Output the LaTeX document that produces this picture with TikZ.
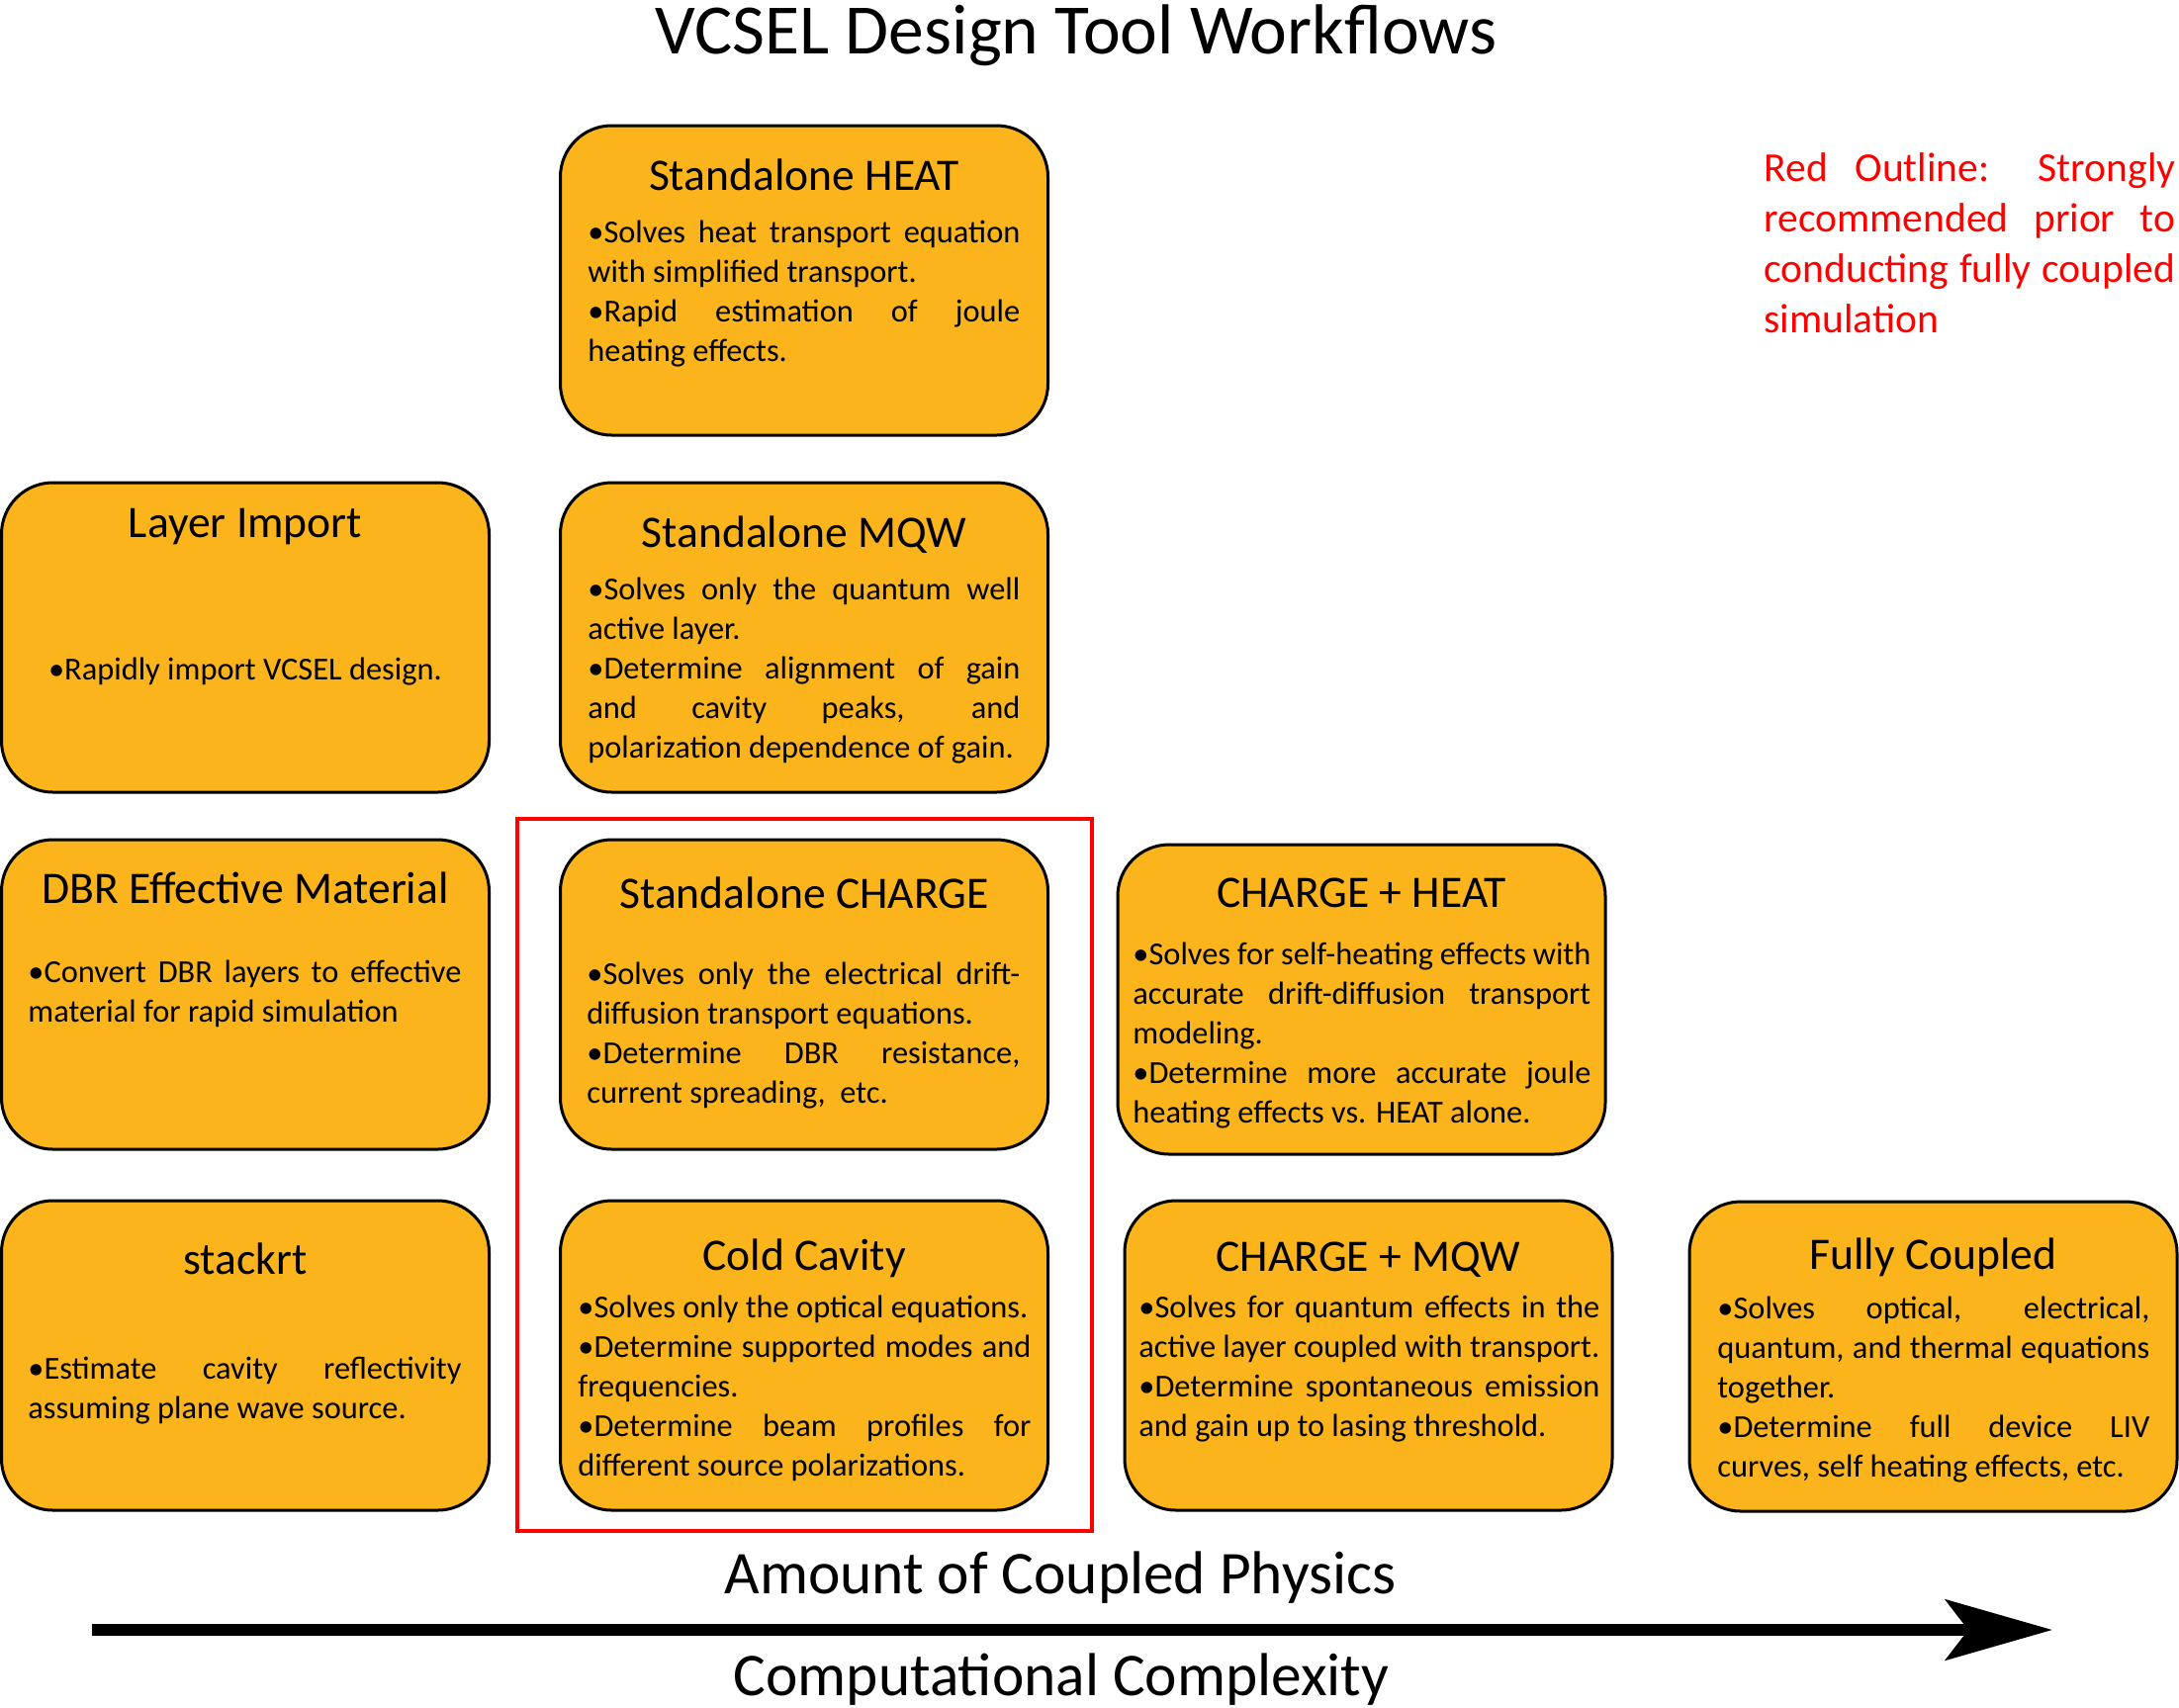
\documentclass[tikz,border=0pt]{standalone}
\usepackage{fontspec}
\setmainfont{Carlito}
\usetikzlibrary{arrows.meta}
\definecolor{boxfill}{RGB}{251,180,28}
\definecolor{redline}{RGB}{255,0,0}
\newcommand\jline[1]{\makebox[\linewidth][s]{#1}\par}
\newcommand\lline[1]{#1\par}
\newcommand\bodyfont{\fontsize{16.2pt}{20pt}\selectfont}
\newcommand\titlefont{\fontsize{22.8pt}{26pt}\selectfont}
\tikzset{
  box/.style={draw=black, line width=1.5pt, fill=boxfill, rounded corners=26pt,
    minimum width=246.5pt, minimum height=156.5pt, inner sep=0pt},
  boxtitle/.style={anchor=base, inner sep=0pt, font=\titlefont},
  body/.style={anchor=base west, inner sep=0pt, font=\bodyfont},
  redframe/.style={draw=redline, line width=2.2pt, inner sep=0pt},
}
\begin{document}
\begin{tikzpicture}[x=0.5pt,y=-0.5pt]
\useasboundingbox (0,0) rectangle (2203,1726);

% title
\node[anchor=base, inner sep=0pt, font=\fontsize{35.8pt}{40pt}\selectfont] (title) at (1088,54) {VCSEL Design Tool Workflows};

% red annotation
\node[anchor=base west, inner sep=0pt, text=redline, font=\fontsize{20.8pt}{25.5pt}\selectfont] (note) at (1783,183)
 {\begin{minipage}[t]{208pt}\jline{Red Outline: Strongly}\jline{recommended prior to}\jline{conducting fully coupled}\lline{simulation}\end{minipage}};

% red frame
\node[redframe, minimum width=290.5pt, minimum height=360pt] (frame) at (813.5,1188) {};

% boxes
\node[box] (heat) at (813,283.5) {};
\node[box] (layer) at (248,644.5) {};
\node[box] (mqw) at (813,644.5) {};
\node[box] (dbr) at (248,1005.5) {};
\node[box] (charge) at (813,1005.5) {};
\node[box] (chheat) at (1376.5,1010.5) {};
\node[box] (stackrt) at (248,1370.5) {};
\node[box] (cold) at (813,1370.5) {};
\node[box] (chmqw) at (1383.5,1370.5) {};
\node[box] (fully) at (1954.5,1371.5) {};

% titles
\node[boxtitle] (heatT) at (813,192) {Standalone HEAT};
\node[boxtitle] (layerT) at (248,543) {Layer Import};
\node[boxtitle] (mqwT) at (813,553) {Standalone MQW};
\node[boxtitle] (dbrT) at (248,913) {DBR Effective Material};
\node[boxtitle] (chargeT) at (813,918) {Standalone CHARGE};
\node[boxtitle] (chheatT) at (1376.5,917) {CHARGE + HEAT};
\node[boxtitle] (stackrtT) at (248,1288) {stackrt};
\node[boxtitle] (coldT) at (813,1284) {Cold Cavity};
\node[boxtitle] (chmqwT) at (1383.5,1285) {CHARGE + MQW};
\node[boxtitle] (fullyT) at (1954.5,1283) {Fully Coupled};

% bodies
\node[body] (heatB) at (594,245) {\begin{minipage}[t]{218.5pt}%
\jline{•Solves heat transport equation}\lline{with simplified transport.}%
\jline{•Rapid estimation of joule}\lline{heating effects.}\end{minipage}};

\node[anchor=base, inner sep=0pt, font=\bodyfont] (layerB) at (248,687) {•Rapidly import VCSEL design.};

\node[body] (mqwB) at (594,606) {\begin{minipage}[t]{218.5pt}%
\jline{•Solves only the quantum well}\lline{active layer.}%
\jline{•Determine alignment of gain}\jline{and cavity peaks, and}\lline{polarization dependence of gain.}\end{minipage}};

\node[body] (dbrB) at (28,993) {\begin{minipage}[t]{219pt}%
\jline{•Convert DBR layers to effective}\lline{material for rapid simulation}\end{minipage}};

\node[body] (chargeB) at (593,995) {\begin{minipage}[t]{219pt}%
\jline{•Solves only the electrical drift-}\lline{diffusion transport equations.}%
\jline{•Determine DBR resistance,}\lline{current spreading,\ \ etc.}\end{minipage}};

\node[body] (coldB) at (584,1332) {\begin{minipage}[t]{229pt}%
\lline{•Solves only the optical equations.}%
\jline{•Determine supported modes and}\lline{frequencies.}%
\jline{•Determine beam profiles for}\lline{different source polarizations.}\end{minipage}};

\node[body] (chheatB) at (1145,975) {\begin{minipage}[t]{231.5pt}%
\jline{•Solves for self-heating effects with}\jline{accurate drift-diffusion transport}\lline{modeling.}%
\jline{•Determine more accurate joule}\lline{heating effects vs. HEAT alone.}\end{minipage}};

\node[body] (chmqwB) at (1151,1332) {\begin{minipage}[t]{233pt}%
\jline{•Solves for quantum effects in the}\lline{active layer coupled with transport.}%
\jline{•Determine spontaneous emission}\lline{and gain up to lasing threshold.}\end{minipage}};

\node[body] (fullyB) at (1736,1333) {\begin{minipage}[t]{218.5pt}%
\jline{•Solves optical, electrical,}\jline{quantum, and thermal equations}\lline{together.}%
\jline{•Determine full device LIV}\lline{curves, self heating effects, etc.}\end{minipage}};

\node[body] (stackrtB) at (28,1394) {\begin{minipage}[t]{219pt}%
\jline{•Estimate cavity reflectivity}\lline{assuming plane wave source.}\end{minipage}};

% axis
\coordinate (axs) at (93,1648);
\coordinate (axe) at (2075,1648);
\draw[line width=6pt, -{Stealth[length=54pt, width=30.5pt, inset=11.5pt]}] (axs) -- (axe);
\node[anchor=base, inner sep=0pt, font=\fontsize{30.7pt}{34pt}\selectfont] (lab1) at (1072,1611) {Amount of Coupled Physics};
\node[anchor=base, inner sep=0pt, font=\fontsize{30.7pt}{34pt}\selectfont] (lab2) at (1073,1714) {Computational Complexity};
\end{tikzpicture}
\end{document}
